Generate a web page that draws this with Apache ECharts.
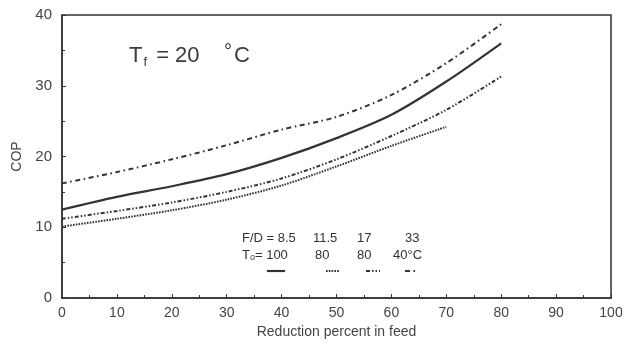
<!DOCTYPE html>
<html>
<head>
<meta charset="utf-8">
<script src="https://cdn.jsdelivr.net/npm/echarts@6/dist/echarts.min.js"></script>
<style>
  html, body { margin: 0; padding: 0; background: #ffffff; }
  #chart { width: 626px; height: 345px; }
</style>
</head>
<body>
<div id="chart"></div>
<script>
// Reduction percent in feed (x) and COP curves for several F/D ratios
const reduction = [0, 10, 20, 30, 40, 50, 60, 70, 80];
const copFD85 = [12.5, 14.3, 15.8, 17.5, 19.8, 22.6, 25.9, 30.6, 36.0];   // F/D = 8.5, To = 100
const copFD115 = [10.1, 11.2, 12.4, 13.9, 15.9, 18.6, 21.5, 24.2];        // F/D = 11.5, To = 80
const copFD17 = [11.2, 12.3, 13.5, 15.0, 16.9, 19.6, 22.9, 26.6, 31.3];   // F/D = 17, To = 80
const copFD33 = [16.2, 17.8, 19.6, 21.6, 23.8, 25.6, 28.7, 33.2, 38.7];   // F/D = 33, To = 40
const fdLabels = ['8.5', '11.5', '17', '33'];
const toLabels = ['100', '80', '80', '40°C'];

const ink = '#333333';
const font = '"Liberation Sans", Arial, sans-serif';

const pairs = (ys) => ys.map((y, i) => [reduction[i], y]);

const styles = {
  fd85: { type: 'solid', width: 2.2 },
  fd115: { type: [1.6, 1.2], width: 2 },
  fd17: { type: [4, 2, 1.5, 2, 1.5, 2], width: 2 },
  fd33: { type: [5, 3.5, 1.6, 3.5], width: 2 }
};

function series(name, ys, st) {
  return {
    name: name,
    type: 'line',
    data: pairs(ys),
    smooth: 0.3,
    showSymbol: false,
    symbol: 'none',
    lineStyle: { color: ink, width: st.width, type: st.type },
    silent: true
  };
}

const chart = echarts.init(document.getElementById('chart'), null, { renderer: 'canvas' });

// legend block: F/D row, To row and a line key under each column
const legendFont = '13px ' + font;
const fdX = [313, 357, 405];
const toX = [315, 357, 393];
const legendGraphics = [];
legendGraphics.push({ type: 'text', left: 242, top: 232, style: { text: 'F/D = ' + fdLabels[0], font: legendFont, fill: ink } });
for (let i = 1; i < 4; i++) {
  legendGraphics.push({ type: 'text', left: fdX[i - 1], top: 232, style: { text: fdLabels[i], font: legendFont, fill: ink } });
}
legendGraphics.push({
  type: 'text', left: 242, top: 249,
  style: {
    text: '{t|T}{s|o}{t|= ' + toLabels[0] + '}',
    rich: {
      t: { font: legendFont, fill: ink },
      s: { font: '9px ' + font, fill: ink, padding: [5, 0, 0, 0] }
    }
  }
});
for (let i = 1; i < 4; i++) {
  legendGraphics.push({ type: 'text', left: toX[i - 1], top: 249, style: { text: toLabels[i], font: legendFont, fill: ink } });
}
const keyStyles = [styles.fd85, styles.fd115, styles.fd17, styles.fd33];
const keyX = [[267, 285], [326, 340], [366, 380], [405, 416]];
keyX.forEach((k, i) => {
  legendGraphics.push({
    type: 'line',
    shape: { x1: k[0], y1: 271, x2: k[1], y2: 271 },
    style: { stroke: ink, lineWidth: keyStyles[i].width, lineDash: keyStyles[i].type === 'solid' ? null : keyStyles[i].type }
  });
});

chart.setOption({
  animation: false,
  backgroundColor: '#ffffff',
  grid: {
    left: 62, right: 15, top: 15, bottom: 47,
    show: true, borderColor: ink, borderWidth: 1.5, backgroundColor: 'transparent'
  },
  xAxis: {
    type: 'value',
    min: 0, max: 100, interval: 10,
    name: 'Reduction percent in feed',
    nameLocation: 'middle',
    nameGap: 27,
    nameTextStyle: { fontFamily: font, fontSize: 14, color: '#444' },
    axisLine: { show: true, lineStyle: { color: ink, width: 1.5 } },
    axisTick: { show: true, inside: true, length: 4, lineStyle: { color: ink } },
    minorTick: { show: true, splitNumber: 2, length: 3, lineStyle: { color: ink } },
    splitLine: { show: false },
    axisLabel: { fontFamily: font, fontSize: 14, color: '#444', margin: 8 }
  },
  yAxis: {
    type: 'value',
    min: 0, max: 40, interval: 10,
    name: 'COP',
    nameLocation: 'middle',
    nameGap: 36,
    nameRotate: 90,
    nameTextStyle: { fontFamily: font, fontSize: 14, color: '#444' },
    axisLine: { show: true, lineStyle: { color: ink, width: 1.5 } },
    axisTick: { show: true, inside: true, length: 4, lineStyle: { color: ink } },
    minorTick: { show: true, splitNumber: 2, length: 3, lineStyle: { color: ink } },
    splitLine: { show: false },
    axisLabel: { fontFamily: font, fontSize: 15, color: '#444', margin: 10 }
  },
  graphic: [
    {
      type: 'text', left: 129, top: 42,
      style: {
        text: '{a|T}{b|f}{a| = 20    }{c|°}{a|C}',
        rich: {
          a: { font: '22px ' + font, fill: '#3a3a3a' },
          b: { font: '13px ' + font, fill: '#3a3a3a', padding: [14, 3, 0, 1] },
          c: { font: '20px ' + font, fill: '#3a3a3a', padding: [0, 2, 7, 0] }
        }
      }
    }
  ].concat(legendGraphics),
  series: [
    series('F/D = 8.5', copFD85, styles.fd85),
    series('F/D = 11.5', copFD115, styles.fd115),
    series('F/D = 17', copFD17, styles.fd17),
    series('F/D = 33', copFD33, styles.fd33)
  ]
});
</script>
</body>
</html>
